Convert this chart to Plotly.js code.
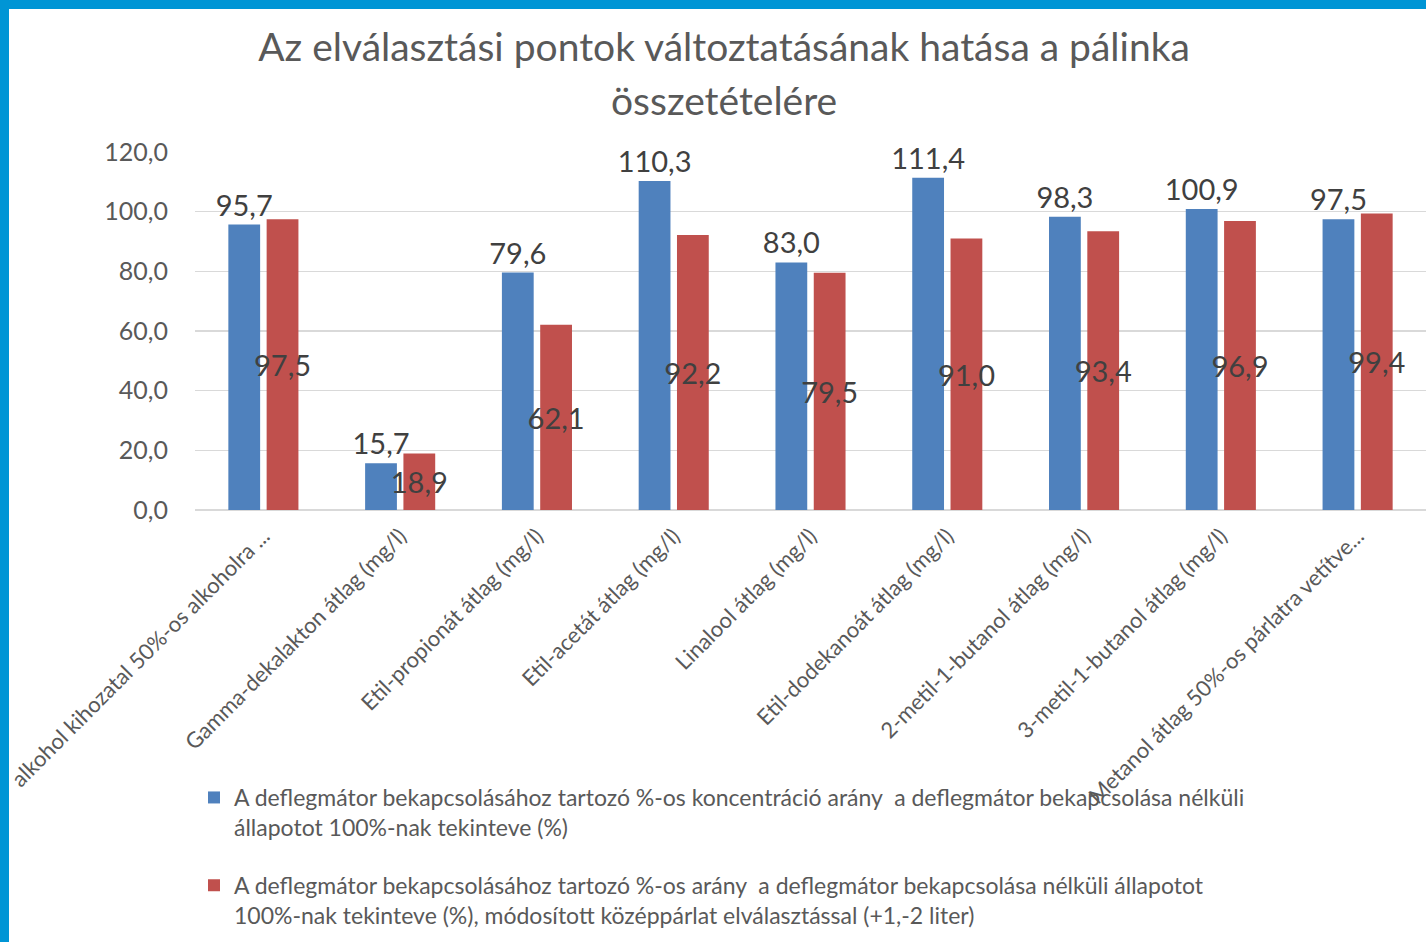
<!DOCTYPE html>
<html>
<head>
<meta charset="utf-8">
<script src="https://cdn.plot.ly/plotly-3.0.1.min.js"></script>
<style>
html,body{margin:0;padding:0;background:#fff;}
#wrap{position:relative;width:1426px;height:942px;overflow:hidden;}
#chart{position:absolute;left:0;top:0;width:1426px;height:942px;}
.bt{position:absolute;left:0;top:0;width:1426px;height:9px;background:#0095D5;}
.bl{position:absolute;left:0;top:0;width:9px;height:942px;background:#0095D5;}
</style>
</head>
<body>
<div id="wrap"><div id="chart"></div><div class="bt"></div><div class="bl"></div></div>
<script>
const categories = [
  "alkohol kihozatal 50%-os alkoholra ...",
  "Gamma-dekalakton átlag (mg/l)",
  "Etil-propionát átlag (mg/l)",
  "Etil-acetát átlag (mg/l)",
  "Linalool átlag (mg/l)",
  "Etil-dodekanoát átlag (mg/l)",
  "2-metil-1-butanol átlag (mg/l)",
  "3-metil-1-butanol átlag (mg/l)",
  "Metanol átlag 50%-os párlatra vetítve..."
];
const seriesBlue = [95.7, 15.7, 79.6, 110.3, 83.0, 111.4, 98.3, 100.9, 97.5];
const seriesRed = [97.5, 18.9, 62.1, 92.2, 79.5, 91.0, 93.4, 96.9, 99.4];
const nameBlue = "A deflegmátor bekapcsolásához tartozó %-os koncentráció arány  a deflegmátor bekapcsolása nélküli<br>állapotot 100%-nak tekinteve (%)";
const nameRed = "A deflegmátor bekapcsolásához tartozó %-os arány  a deflegmátor bekapcsolása nélküli állapotot<br>100%-nak tekinteve (%), módosított középpárlat elválasztással (+1,-2 liter)";
const titleLine1 = "Az elválasztási pontok változtatásának hatása a pálinka";
const titleLine2 = "összetételére";

const FONT = "Lato, 'Open Sans', sans-serif";

const traces = [
  {
    type: "bar", x: categories, y: seriesBlue, name: nameBlue,
    legendgroup: "a",
    marker: {color: "#4F81BD"},
    texttemplate: "%{y:.1f}", textposition: "outside", constraintext: "none", textangle: 0,
    outsidetextfont: {family: FONT, size: 29, color: "#404040"},
    cliponaxis: false, hoverinfo: "y"
  },
  {
    type: "bar", x: categories, y: seriesRed, name: nameRed,
    legendgroup: "b",
    marker: {color: "#C0504D"},
    texttemplate: "%{y:.1f}", textposition: "inside", insidetextanchor: "middle",
    constraintext: "none", textangle: 0,
    insidetextfont: {family: FONT, size: 29, color: "#404040"},
    cliponaxis: false, hoverinfo: "y"
  }
];

const layout = {
  width: 1426, height: 942,
  separators: ", ",
  font: {family: FONT, color: "#595959"},
  paper_bgcolor: "#ffffff", plot_bgcolor: "#ffffff",
  margin: {l: 195, r: 0, t: 152, b: 432, autoexpand: false},
  title: {text: titleLine1, font: {family: FONT, size: 39, color: "#595959"},
          x: 724/1426, xref: "container", xanchor: "center", y: 1 - 47/942, yanchor: "middle", yref: "container"},
  annotations: [{text: titleLine2, xref: "paper", yref: "paper", x: (724-195)/1231, y: (510-100)/358,
                 xanchor: "center", yanchor: "middle", showarrow: false,
                 font: {family: FONT, size: 39, color: "#595959"}}],
  barmode: "group", bargap: 0.44, bargroupgap: 0.17,
  xaxis: {
    tickangle: -45, tickfont: {family: FONT, size: 22, color: "#595959"},
    ticklabelstandoff: 8,
    showgrid: false, zeroline: false, showline: false, ticks: "", fixedrange: true, automargin: false
  },
  yaxis: {
    range: [0, 120], dtick: 20, tickformat: ".1f",
    tickfont: {family: FONT, size: 25, color: "#595959"},
    ticklabelstandoff: 26,
    gridcolor: "#D9D9D9", gridwidth: 1.5, zeroline: true, zerolinecolor: "#D9D9D9", zerolinewidth: 2,
    ticks: "", ticklen: 0, showline: false, fixedrange: true, automargin: false
  },
  showlegend: true,
  legend: {
    orientation: "v", xref: "container", yref: "container",
    x: 194/1426, y: 1 - 776/942, xanchor: "left", yanchor: "top",
    font: {family: FONT, size: 23, color: "#595959"},
    traceorder: "grouped", tracegroupgap: 25, valign: "top",
    bgcolor: "rgba(0,0,0,0)", borderwidth: 0
  }
};

Plotly.newPlot("chart", traces, layout, {displayModeBar: false, staticPlot: true});
</script>
</body>
</html>
